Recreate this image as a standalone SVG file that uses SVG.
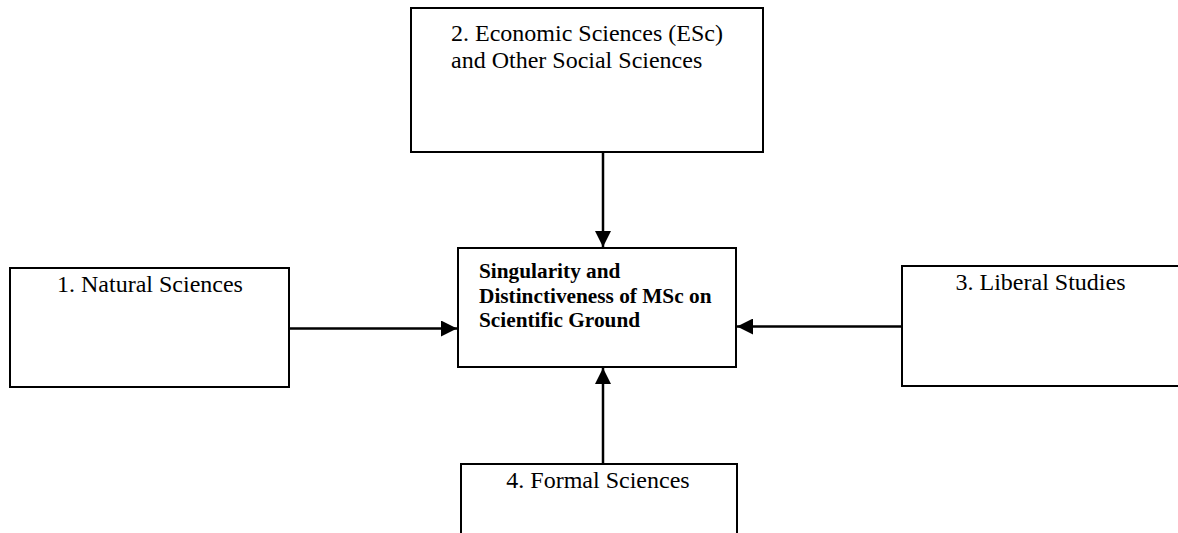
<svg xmlns="http://www.w3.org/2000/svg" width="1178" height="533" viewBox="0 0 1178 533">
  <style>
    .box { fill: #ffffff; stroke: #000000; stroke-width: 2; }
    .lbl { font-family: "Liberation Serif", "Times New Roman", serif; font-size: 24px; fill: #000000; }
    .core { font-family: "Liberation Serif", "Times New Roman", serif; font-size: 21.3px; font-weight: bold; fill: #000000; }
    .link { stroke: #000000; stroke-width: 2.5; fill: none; marker-end: url(#head); }
  </style>
  <defs>
    <marker id="head" viewBox="0 0 16 16" refX="16" refY="8" markerWidth="16" markerHeight="16" markerUnits="userSpaceOnUse" orient="auto">
      <path d="M0,0 L16,8 L0,16 Z" fill="#000000"/>
    </marker>
  </defs>
  <rect width="1178" height="533" fill="#ffffff"/>

  <g id="connectors">
    <line class="link" x1="603" y1="152" x2="603" y2="247"/>
    <line class="link" x1="289" y1="328.5" x2="457" y2="328.5"/>
    <line class="link" x1="902" y1="326.5" x2="737" y2="326.5"/>
    <line class="link" x1="603" y1="464" x2="603" y2="368"/>
  </g>

  <g id="node-economic">
    <rect class="box" x="411" y="8" width="352" height="144"/>
    <text class="lbl" x="451" y="40.5">2. Economic Sciences (ESc)</text>
    <text class="lbl" x="451" y="68">and Other Social Sciences</text>
  </g>

  <g id="node-core">
    <rect class="box" x="458" y="248" width="278" height="119"/>
    <text class="core" x="479" y="278">Singularity and</text>
    <text class="core" x="479" y="302.5">Distinctiveness of MSc on</text>
    <text class="core" x="479" y="327">Scientific Ground</text>
  </g>

  <g id="node-natural">
    <rect class="box" x="10" y="268" width="279" height="119"/>
    <text class="lbl" x="150" y="292" text-anchor="middle">1. Natural Sciences</text>
  </g>

  <g id="node-liberal">
    <rect class="box" x="902" y="266" width="290" height="120"/>
    <text class="lbl" x="1040.5" y="290" text-anchor="middle">3. Liberal Studies</text>
  </g>

  <g id="node-formal">
    <rect class="box" x="461" y="464" width="276" height="90"/>
    <text class="lbl" x="598" y="488" text-anchor="middle">4. Formal Sciences</text>
  </g>
</svg>
